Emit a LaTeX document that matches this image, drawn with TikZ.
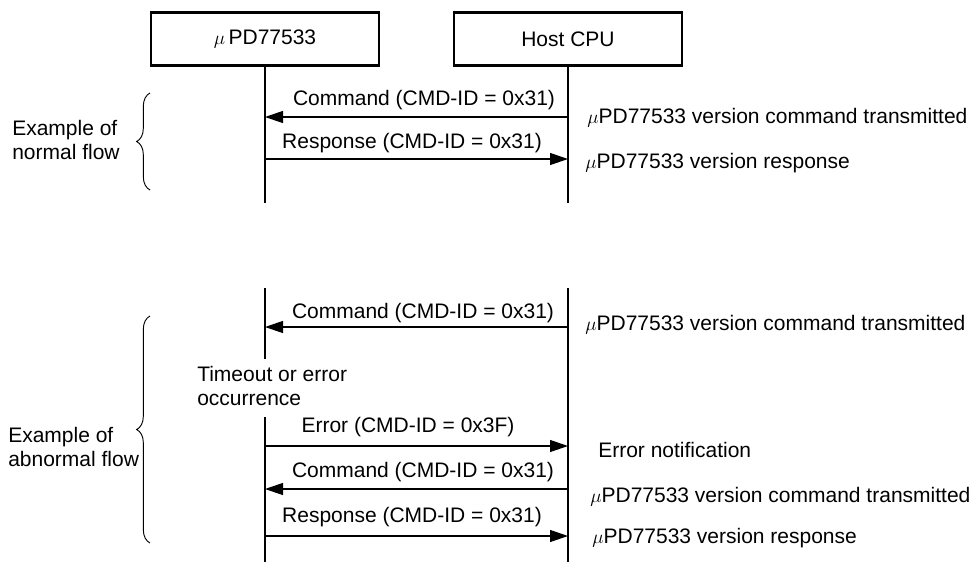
\documentclass[tikz,border=0pt]{standalone}
\usepackage{fontspec}
\setmainfont{Liberation Sans}
\usetikzlibrary{arrows.meta,decorations.pathreplacing}

\begin{document}
\begin{tikzpicture}[x=0.75pt,y=0.75pt,yscale=-1,xscale=1,
  every node/.style={font=\fontsize{15.75}{18}\selectfont},
  unitbox/.style={draw,line width=1.9pt,minimum width=171pt,minimum height=40pt,inner sep=0pt},
  msg/.style={line width=0.9pt,-{Triangle[length=13.5pt,width=9pt]}},
  life/.style={line width=0.9pt},
  note/.style={anchor=west,inner sep=0pt},
  grp/.style={line width=0.7pt,decorate,decoration={brace,amplitude=10pt}}]
\useasboundingbox (0,0) rectangle (979,562);

%Shape: Rectangle [id:upd] 
\node [unitbox] (upd) at (265,39) {$\mu$\,PD77533};
%Shape: Rectangle [id:host] 
\node [unitbox] (host) at (568,39) {Host CPU};

% Lifelines (normal flow)
\coordinate (updN) at (265,203);
\coordinate (hostN) at (568,203);
\draw [life] (upd.south) -- (updN);
\draw [life] (host.south) -- (hostN);

% Lifelines (abnormal flow)
\coordinate (updA1) at (265,288);
\coordinate (updA2) at (265,359);
\coordinate (updA3) at (265,417);
\coordinate (updA4) at (265,562);
\coordinate (hostA1) at (568,288);
\coordinate (hostA2) at (568,562);
\draw [life] (updA1) -- (updA2);
\draw [life] (updA3) -- (updA4);
\draw [life] (hostA1) -- (hostA2);

%Straight Lines [id:normal]
\coordinate (h1) at (568,117); \coordinate (u1) at (265,117);
\coordinate (u2) at (265,159); \coordinate (h2) at (568,159);
\draw [msg] (h1) -- (u1);
\draw [msg] (u2) -- (h2);

%Straight Lines [id:abnormal]
\coordinate (h3) at (568,327); \coordinate (u3) at (265,327);
\coordinate (u4) at (265,446); \coordinate (h4) at (568,446);
\coordinate (h5) at (568,489); \coordinate (u5) at (265,489);
\coordinate (u6) at (265,536); \coordinate (h6) at (568,536);
\draw [msg] (h3) -- (u3);
\draw [msg] (u4) -- (h4);
\draw [msg] (h5) -- (u5);
\draw [msg] (u6) -- (h6);

% Text Node
\node (cmd1) at (424,100) {Command (CMD-ID = 0x31)};
\node (rsp1) at (412,143) {Response (CMD-ID = 0x31)};
\node (cmd2) at (423,313) {Command (CMD-ID = 0x31)};
\node (err) at (408,427) {Error (CMD-ID = 0x3F)};
\node (cmd3) at (423,472) {Command (CMD-ID = 0x31)};
\node (rsp2) at (412,517) {Response (CMD-ID = 0x31)};

% Text Node
\node [note] (txN1) at (587,118) {$\mu$PD77533 version command transmitted};
\node [note] (txN2) at (585,163) {$\mu$PD77533 version response};
\node [note] (txA1) at (585,325) {$\mu$PD77533 version command transmitted};
\node [note] (txA2) at (598,450) {Error notification};
\node [note] (txA3) at (590,497) {$\mu$PD77533 version command transmitted};
\node [note] (txA4) at (592,538) {$\mu$PD77533 version response};

% Text Node
\node [note,align=left] (tmo) at (197,386) {Timeout or error\\occurrence};

%Braces
\coordinate (bN1) at (150,190); \coordinate (bN2) at (150,93);
\coordinate (bA1) at (150,543); \coordinate (bA2) at (150,316);
\draw [grp] (bN1) -- (bN2);
\draw [grp] (bA1) -- (bA2);

% Text Node
\node [note,align=left] (grpN) at (12,140) {Example of\\normal flow};
\node [note,align=left] (grpA) at (8,447) {Example of\\abnormal flow};

\end{tikzpicture}
\end{document}
